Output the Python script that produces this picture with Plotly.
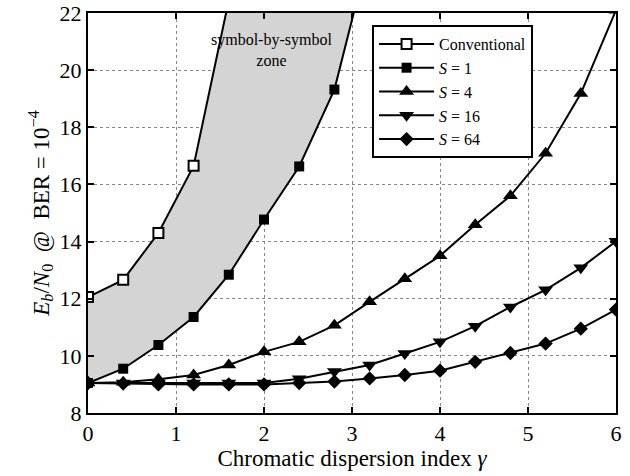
import plotly.graph_objects as go

gamma_conv = [0.0, 0.4, 0.8, 1.2, 1.6]
eb_conv = [12.06, 12.66, 14.3, 16.65, 22.45]

gamma = [0.0, 0.4, 0.8, 1.2, 1.6, 2.0, 2.4, 2.8, 3.2, 3.6, 4.0, 4.4, 4.8, 5.2, 5.6, 6.0]
gamma_s1 = [0.0, 0.4, 0.8, 1.2, 1.6, 2.0, 2.4, 2.8, 3.2]
eb_s1 = [9.05, 9.55, 10.38, 11.36, 12.84, 14.77, 16.63, 19.32, 24.2]
eb_s4 = [9.05, 9.08, 9.18, 9.33, 9.68, 10.14, 10.49, 11.07, 11.89, 12.7, 13.5, 14.59, 15.6, 17.09, 19.18, 22.1]
eb_s16 = [9.05, 9.05, 9.05, 9.05, 9.05, 9.05, 9.2, 9.45, 9.68, 10.08, 10.49, 11.04, 11.71, 12.31, 13.08, 14.01]
eb_s64 = [9.05, 9.03, 9.0, 9.0, 9.0, 9.0, 9.05, 9.1, 9.21, 9.33, 9.48, 9.79, 10.1, 10.43, 10.95, 11.62]

x_ticks = [0, 1, 2, 3, 4, 5, 6]
y_ticks = [8, 10, 12, 14, 16, 18, 20, 22]

FONT = "Liberation Serif"

fig = go.Figure()

# shaded symbol-by-symbol zone between Conventional and S=1
fig.add_trace(go.Scatter(
    x=gamma_conv + gamma_s1[::-1],
    y=eb_conv + eb_s1[::-1],
    fill="toself", fillcolor="#d4d4d4", mode="none",
    line=dict(width=0), showlegend=False, hoverinfo="skip"))

series = [
    ("Conventional", gamma_conv, eb_conv, "square-open", 10),
    ("<i>S</i> = 1", gamma_s1, eb_s1, "square", 10),
    ("<i>S</i> = 4", gamma, eb_s4, "triangle-up", 13),
    ("<i>S</i> = 16", gamma, eb_s16, "triangle-down", 13),
    ("<i>S</i> = 64", gamma, eb_s64, "diamond", 11),
]
for name, xs, ys, sym, sz in series:
    if sym == "square-open":
        marker = dict(symbol="square", size=sz, color="white",
                      line=dict(color="black", width=2))
    else:
        marker = dict(symbol=sym, size=sz, color="black",
                      line=dict(color="black", width=0))
    fig.add_trace(go.Scatter(x=xs, y=ys, name=name, mode="lines+markers",
                             line=dict(color="black", width=2), marker=marker))

fig.add_annotation(x=2.09, y=20.72, text="symbol-by-symbol<br>zone",
                   showarrow=False, font=dict(family=FONT, size=16, color="black"),
                   xref="x", yref="y")

axis_common = dict(showline=True, linecolor="black", linewidth=2, mirror="ticks",
                   ticks="inside", ticklen=6, tickwidth=1.5, tickcolor="black",
                   showgrid=True, gridcolor="#888888", griddash="dot", gridwidth=1,
                   zeroline=False, automargin=False, ticklabeloverflow="allow",
                   tickfont=dict(family=FONT, size=22, color="black"))

fig.update_xaxes(range=[0, 6], tickvals=x_ticks, ticktext=[str(v) for v in x_ticks],
                 title=dict(text="Chromatic dispersion index <i>γ</i>",
                            font=dict(family=FONT, size=23, color="black"), standoff=4),
                 **axis_common)
fig.update_yaxes(range=[8, 22], tickvals=y_ticks, ticktext=[str(v) for v in y_ticks],
                 title=dict(text="<i>E</i><sub><i>b</i></sub>/<i>N</i><sub>0</sub>  @  BER = 10<sup>−4</sup>",
                            font=dict(family=FONT, size=23, color="black"), standoff=4),
                 **axis_common)

fig.update_layout(
    width=630, height=476,
    margin=dict(l=88, r=14, t=13, b=63),
    paper_bgcolor="white", plot_bgcolor="white",
    font=dict(family=FONT, color="black"),
    legend=dict(x=0.538, y=0.97, xanchor="left", yanchor="top",
                bgcolor="white", bordercolor="black", borderwidth=2,
                font=dict(family=FONT, size=16, color="black"),
                tracegroupgap=0, itemwidth=55),
    showlegend=True,
)

fig.write_html("out.html")
